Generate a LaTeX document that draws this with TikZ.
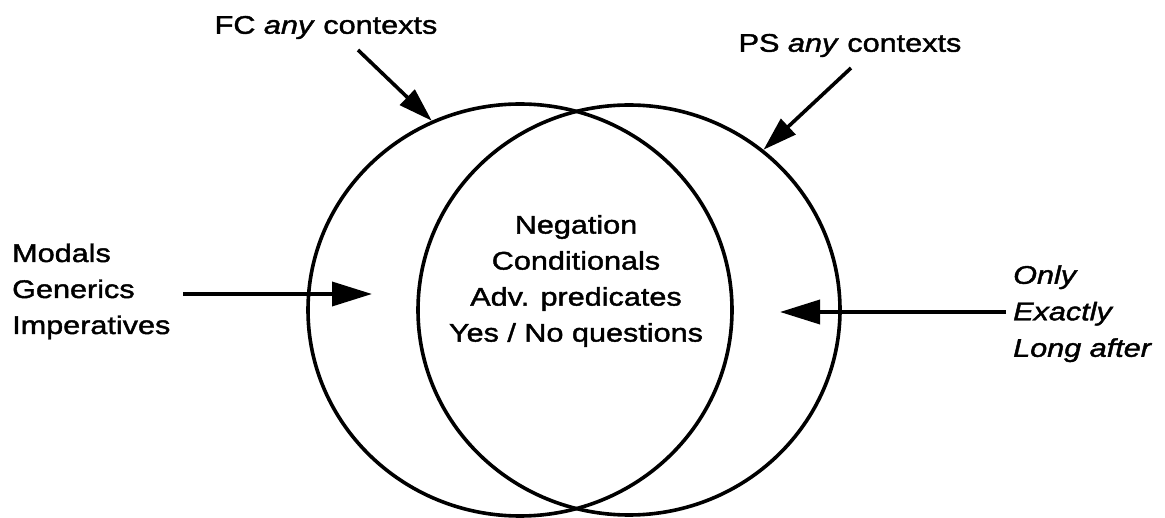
\documentclass[tikz,border=0pt]{standalone}
\usepackage{fontspec}
\setmainfont{Liberation Sans}[FakeStretch=1.2,FakeBold=1.6]
\usetikzlibrary{arrows.meta,shapes.geometric}

\tikzset{
  lbl/.style={font=\fontsize{25.5}{36}\selectfont, inner sep=0pt},
  setbox/.style={draw, ellipse, line width=3.6pt, inner sep=0pt},
  bigarrow/.style={line width=3.6pt, -{Triangle[length=40pt,width=24pt]}},
  slantarrow/.style={line width=3.6pt, -{Triangle[length=34pt,width=21pt]}},
}

\begin{document}
\begin{tikzpicture}[x=1pt,y=1pt]
  \useasboundingbox (0,0) rectangle (1165,517);

  % the two overlapping sets
  \node[setbox, minimum width=424pt, minimum height=412pt] (fc) at (520,207) {};
  \node[setbox, minimum width=422pt, minimum height=410pt] (ps) at (629,207) {};

  % labels
  \node[lbl] (fclbl) at (326,489.5) {FC \textit{any} contexts};
  \node[lbl] (pslbl) at (850,471.5) {PS \textit{any} contexts};
  \node[lbl, align=left, anchor=west] (left) at (12,225.6) {Modals\\Generics\\Imperatives};
  \node[lbl, align=center] (mid) at (576,236) {Negation\\Conditionals\\Adv. predicates\\Yes / No questions};
  \node[lbl, align=left, anchor=west, font=\fontsize{25.5}{36.5}\selectfont\itshape] (right) at (1013,203.3) {Only\\Exactly\\Long after};

  % arrow end points
  \coordinate (fctail) at (358,467);
  \coordinate (pstail) at (851,449);
  \coordinate (ltail) at (183,223);
  \coordinate (lhead) at (372,223);
  \coordinate (rtail) at (1006,205);
  \coordinate (rhead) at (780,205);

  % connectors
  \draw[slantarrow] (fctail) -- (fc.115);
  \draw[slantarrow] (pstail) -- (ps.50);
  \draw[bigarrow] (ltail) -- (lhead);
  \draw[bigarrow] (rtail) -- (rhead);
\end{tikzpicture}
\end{document}
